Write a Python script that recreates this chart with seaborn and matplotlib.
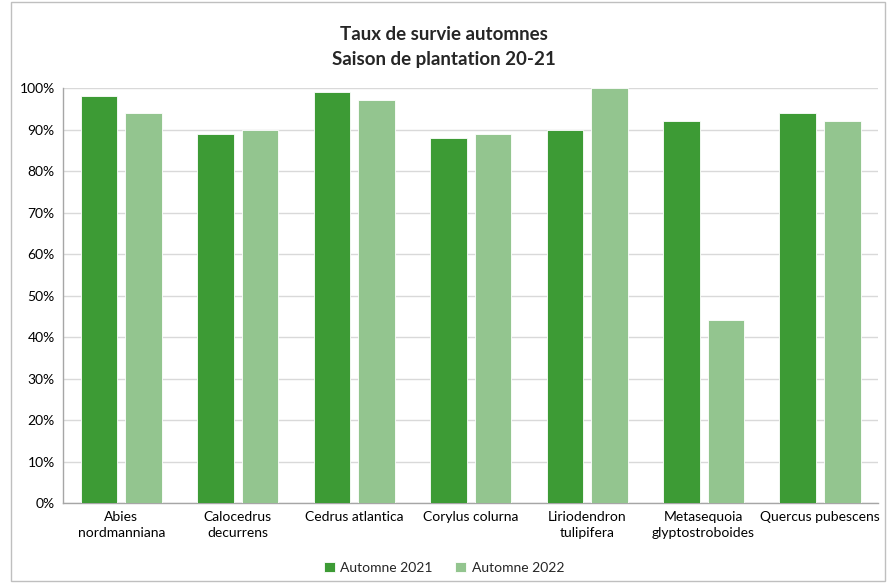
import numpy as np
import pandas as pd
import matplotlib
matplotlib.use("Agg")
import matplotlib.pyplot as plt
import seaborn as sns
from matplotlib.ticker import PercentFormatter

especes = [
    "Abies\nnordmanniana",
    "Calocedrus\ndecurrens",
    "Cedrus atlantica",
    "Corylus colurna",
    "Liriodendron\ntulipifera",
    "Metasequoia\nglyptostroboides",
    "Quercus pubescens",
]
automne_2021 = [0.98, 0.89, 0.99, 0.88, 0.90, 0.92, 0.94]
automne_2022 = [0.94, 0.90, 0.97, 0.89, 1.00, 0.44, 0.92]
series = ["Automne 2021", "Automne 2022"]
couleurs = ["#3d9b35", "#93c58f"]

df = pd.DataFrame({
    "espece": especes * 2,
    "serie": [series[0]] * len(especes) + [series[1]] * len(especes),
    "taux": automne_2021 + automne_2022,
})

sns.set_theme(style="white")
plt.rcParams["font.family"] = ["Lato", "DejaVu Sans"]

fig = plt.figure(figsize=(8.88, 5.83), dpi=100)
ax = fig.add_axes([0.071, 0.137, 0.918, 0.712])

sns.barplot(
    data=df, x="espece", y="taux", hue="serie",
    palette=couleurs, saturation=1, width=0.765, gap=0.18,
    edgecolor="white", linewidth=0.6, ax=ax, zorder=3,
)

ax.set_ylim(0, 1.0)
ax.set_yticks(np.arange(0, 1.01, 0.1))
ax.yaxis.set_major_formatter(PercentFormatter(1.0, decimals=0))
ax.grid(axis="y", color="#d9d9d9", linewidth=1, zorder=0)
ax.set_axisbelow(True)
ax.set_xlabel("")
ax.set_ylabel("")
ax.tick_params(axis="both", labelsize=10, colors="#000000", length=0, pad=6)
for side in ["top", "right"]:
    ax.spines[side].set_visible(False)
for side in ["left", "bottom"]:
    ax.spines[side].set_color("#a6a6a6")
    ax.spines[side].set_linewidth(1)
for lab in ax.get_xticklabels():
    lab.set_verticalalignment("top")
    lab.set_linespacing(1.35)

leg = ax.legend(
    loc="center", bbox_to_anchor=(0.5, 0.026), bbox_transform=fig.transFigure,
    ncol=2, frameon=False, fontsize=10, handlelength=0.8, handleheight=0.8,
    handletextpad=0.4, columnspacing=1.6,
)

fig.text(0.5, 0.941, "Taux de survie automnes", ha="center", va="center",
         fontsize=13.5, fontweight="bold")
fig.text(0.5, 0.898, "Saison de plantation 20-21", ha="center", va="center",
         fontsize=13.5, fontweight="bold")

border = plt.Rectangle((0.012, 0.003), 0.985, 0.994, transform=fig.transFigure,
                       fill=False, edgecolor="#bfbfbf", linewidth=1)
fig.add_artist(border)

fig.savefig("out.png", dpi=100)
